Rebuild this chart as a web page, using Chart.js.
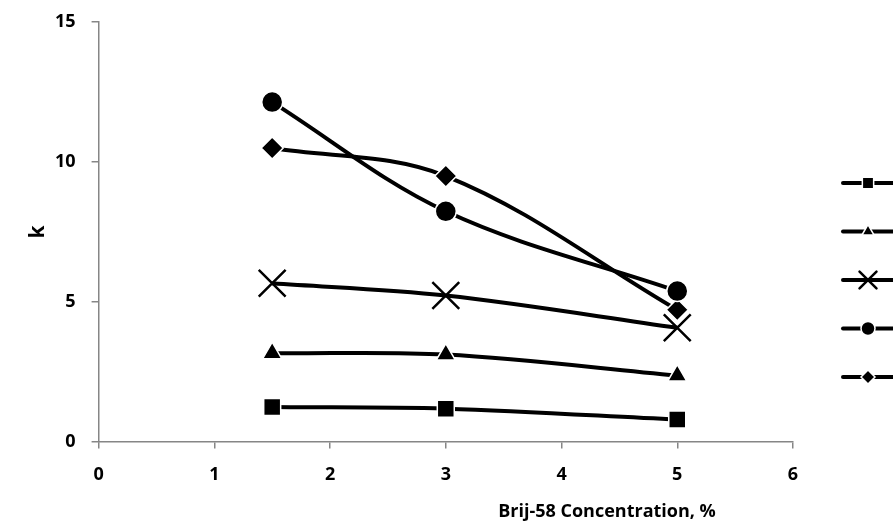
<!DOCTYPE html>
<html>
<head>
<meta charset="utf-8">
<script src="https://cdn.jsdelivr.net/npm/chart.js@4"></script>
<style>
body{margin:0;background:#fff;}
#wrap{width:893px;height:531px;}
</style>
</head>
<body>
<div id="wrap"><canvas id="chart1"></canvas></div>
<script>
// concentracion de Brij-58 (%)
var concentraciones = [1.5, 3, 5];
var serieCuadro = [1.23, 1.17, 0.78];
var serieTriangulo = [3.15, 3.1, 2.35];
var serieEquis = [5.65, 5.21, 4.06];
var serieCirculo = [12.12, 8.22, 5.37];
var serieRombo = [10.48, 9.48, 4.7];
var ticksX = [0, 1, 2, 3, 4, 5, 6];
var ticksY = [0, 5, 10, 15];
var tituloX = "Brij-58 Concentration, %";
var tituloY = "k";

var fuente = "'Open Sans', sans-serif";
var gris = "#868686";

function puntos(valores){
	var lista = [];
	for (var i = 0; i < concentraciones.length; i++){
		lista.push({x: concentraciones[i], y: valores[i]});
	}
	return lista;
}

function serie(valores, estilo, radio, radioLeyenda){
	return {
		data: puntos(valores),
		borderColor: "#000",
		borderWidth: 4,
		tension: 0.35,
		pointStyle: estilo,
		pointRadius: radio,
		pointHoverRadius: radio,
		pointBackgroundColor: "#000",
		pointBorderColor: estilo == "crossRot" ? "#000" : "#fff",
		pointBorderWidth: estilo == "crossRot" ? 2.5 : 1.5,
		radioLeyenda: radioLeyenda
	};
}

var datasets = [
	serie(serieCuadro, "rect", 12, 8),
	serie(serieTriangulo, "triangle", 11, 7),
	serie(serieEquis, "crossRot", 19, 12),
	serie(serieCirculo, "circle", 10.5, 7),
	serie(serieRombo, "rectRot", 11, 7)
];

// leyenda sin texto (linea con marcador) y titulos de ejes
var leyenda = {
	id: "leyenda",
	afterDraw: function(chart){
		var ctx = chart.ctx;
		var y0 = 183;
		for (var i = 0; i < datasets.length; i++){
			var d = datasets[i];
			var y = y0 + i * 48.5;
			ctx.save();
			ctx.strokeStyle = "#000";
			ctx.lineWidth = 4;
			ctx.lineCap = "round";
			ctx.beginPath();
			ctx.moveTo(843, y);
			ctx.lineTo(895, y);
			ctx.stroke();
			ctx.fillStyle = "#000";
			ctx.strokeStyle = d.pointBorderColor;
			ctx.lineWidth = d.pointBorderWidth;
			Chart.helpers.drawPoint(ctx, {pointStyle: d.pointStyle, radius: d.radioLeyenda, borderWidth: d.pointBorderWidth, rotation: 0}, 868, y);
			ctx.restore();
		}
		ctx.save();
		ctx.font = "bold 18px " + fuente;
		ctx.fillStyle = "#000";
		ctx.textAlign = "center";
		ctx.textBaseline = "middle";
		ctx.fillText(tituloX, 607, 512);
		ctx.font = "bold 21px " + fuente;
		ctx.translate(38, 232);
		ctx.rotate(-Math.PI / 2);
		ctx.fillText(tituloY, 0, 0);
		ctx.restore();
	}
};

var config = {
	type: "line",
	data: {datasets: datasets},
	options: {
		responsive: true,
		maintainAspectRatio: false,
		animation: false,
		layout: {padding: {top: 21, right: 100, bottom: 29, left: 39}},
		plugins: {legend: {display: false}, tooltip: {enabled: false}},
		scales: {
			x: {
				type: "linear",
				min: 0,
				max: 6,
				afterBuildTicks: function(eje){
					eje.ticks = ticksX.map(function(v){ return {value: v}; });
				},
				grid: {drawOnChartArea: false, drawTicks: true, tickLength: 7, color: gris, lineWidth: 1.5},
				border: {color: gris, width: 1.5},
				ticks: {color: "#000", padding: 16, font: {family: fuente, size: 18, weight: "bold"}}
			},
			y: {
				min: 0,
				max: 15,
				afterBuildTicks: function(eje){
					eje.ticks = ticksY.map(function(v){ return {value: v}; });
				},
				afterFit: function(eje){
					eje.paddingTop = 0;
				},
				grid: {drawOnChartArea: false, drawTicks: true, tickLength: 7, color: gris, lineWidth: 1.5},
				border: {color: gris, width: 1.5},
				ticks: {color: "#000", padding: 16, font: {family: fuente, size: 18, weight: "bold"}}
			}
		}
	},
	plugins: [leyenda]
};

var canvas = document.getElementById("chart1").getContext("2d");
window.grafico = new Chart(canvas, config);
</script>
</body>
</html>
